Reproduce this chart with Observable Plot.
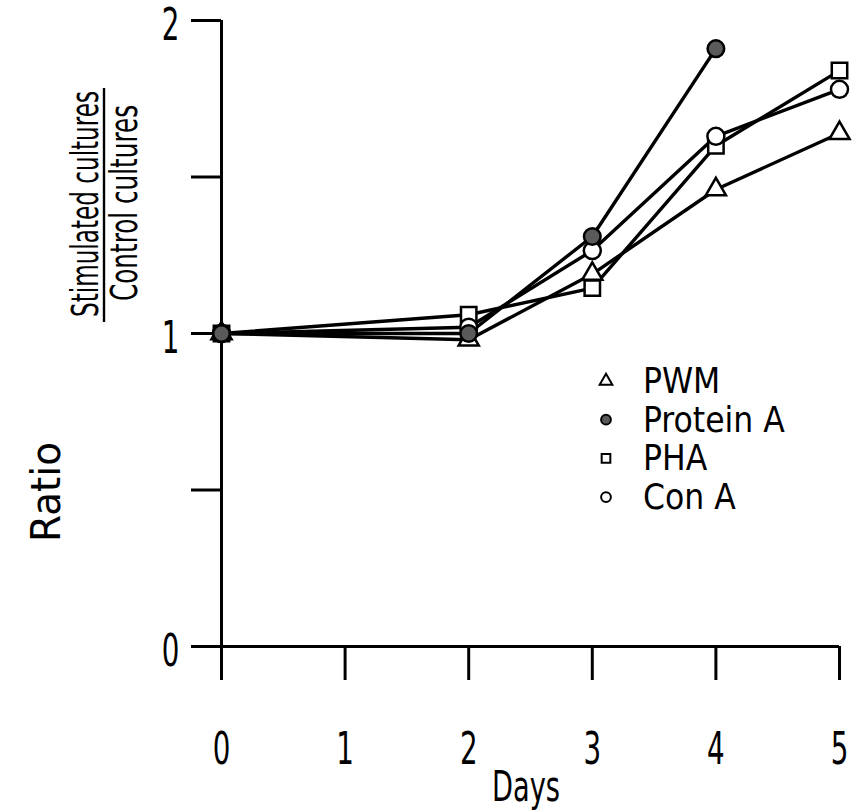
<!DOCTYPE html>
<html><head><meta charset="utf-8">
<script src="https://cdn.jsdelivr.net/npm/d3@7"></script>
<script src="https://cdn.jsdelivr.net/npm/@observablehq/plot@0.6"></script>
<style>body{margin:0;background:#fff} svg{display:block}</style>
</head><body><div id="chart"></div>
<script>
const days = [0, 2, 3, 4, 5];
const seriesNames = ["PWM", "Protein A", "PHA", "Con A"];
const pwm = [1.0, 0.98, 1.19, 1.46, 1.64];
const proteinA = [1.0, 1.0, 1.31, 1.91];
const pha = [1.0, 1.06, 1.145, 1.60, 1.84];
const conA = [1.0, 1.02, 1.265, 1.63, 1.78];
const xTicks = [0, 1, 2, 3, 4, 5];
const yTicks = [0, 0.5, 1, 1.5, 2];
const yLabelled = [0, 1, 2];

const FONT = '"DejaVu Sans Condensed", "Liberation Sans Narrow", "Liberation Sans", sans-serif';
const valuesBySeries = [pwm, proteinA, pha, conA];
const rows = [];
seriesNames.forEach((s, i) => valuesBySeries[i].forEach((v, j) => rows.push({series: s, day: days[j], ratio: v})));
const sym = {"PWM": "triangle", "Protein A": "circle", "PHA": "square", "Con A": "circle"};
const fillOf = {"PWM": "white", "Protein A": "#5a5a5a", "PHA": "white", "Con A": "white"};
const rOf = {"PWM": 7.5, "Protein A": 8.3, "PHA": 8.7, "Con A": 8.5};
const drawOrder = ["PWM", "PHA", "Con A", "Protein A"];

const W = 856, H = 812;
const plot = Plot.plot({
  width: W, height: H,
  marginLeft: 221, marginRight: 17, marginTop: 20, marginBottom: 166,
  style: {fontFamily: FONT, fontSize: "44px", color: "black", background: "white"},
  x: {domain: [0, 5]},
  y: {domain: [0, 2]},
  marks: [
    Plot.ruleX([xTicks[0]], {y1: yTicks[0], y2: yTicks[yTicks.length - 1], strokeWidth: 3}),
    Plot.ruleY([yTicks[0]], {x1: xTicks[0], x2: xTicks[xTicks.length - 1], strokeWidth: 3}),
    Plot.axisY({ticks: yTicks, tickSize: 30, strokeWidth: 3, tickFormat: () => "", label: null}),
    Plot.axisY({ticks: yLabelled, tickSize: 0, tickPadding: 42, fontSize: 44, dy: 5,
      tickFormat: d => String(d), label: null}),
    Plot.axisX({ticks: xTicks, tickSize: 34, tickPadding: 52, strokeWidth: 3, fontSize: 44,
      tickFormat: d => String(d), label: null}),
    Plot.line(rows, {x: "day", y: "ratio", z: "series", stroke: "black", strokeWidth: 3.4}),
    ...drawOrder.map(s => Plot.dot(rows.filter(d => d.series === s), {
      x: "day", y: "ratio", symbol: () => sym[s], r: rOf[s], fill: fillOf[s], stroke: "black", strokeWidth: 2.5
    }))
  ]
});
document.getElementById("chart").append(plot);

const svg = d3.select(plot);
// narrow the tick digits to match the condensed lettering of the original
svg.selectAll("g[aria-label='x-axis tick label'] text, g[aria-label='y-axis tick label'] text").each(function () {
  const L = this.getComputedTextLength();
  if (L > 0) { this.setAttribute("textLength", L * 0.7); this.setAttribute("lengthAdjust", "spacingAndGlyphs"); }
});

const x = plot.scale("x");
// x-axis title
svg.append("text").attr("x", (x.apply(2) + x.apply(3)) / 2 - 4).attr("y", 801)
  .attr("text-anchor", "middle").attr("font-family", FONT).attr("font-size", 42)
  .attr("textLength", 68).attr("lengthAdjust", "spacingAndGlyphs").text("Days");

// y-axis title: Ratio  Stimulated cultures / Control cultures
const ylab = svg.append("g").attr("font-family", FONT);
ylab.append("text").attr("transform", "translate(60,492) rotate(-90)").attr("text-anchor", "middle")
  .attr("font-size", 40).attr("textLength", 100).attr("lengthAdjust", "spacingAndGlyphs").text("Ratio");
ylab.append("text").attr("transform", "translate(98,204) rotate(-90)").attr("text-anchor", "middle")
  .attr("font-size", 37).attr("textLength", 226).attr("lengthAdjust", "spacingAndGlyphs").text("Stimulated cultures");
ylab.append("line").attr("x1", 104).attr("x2", 104).attr("y1", 88).attr("y2", 322).attr("stroke", "black").attr("stroke-width", 2.4);
ylab.append("text").attr("transform", "translate(137,203) rotate(-90)").attr("text-anchor", "middle")
  .attr("font-size", 37).attr("textLength", 196).attr("lengthAdjust", "spacingAndGlyphs").text("Control cultures");

// legend
const leg = svg.append("g").attr("font-family", FONT).attr("font-size", 35).attr("text-anchor", "start");
const symMap = {triangle: d3.symbolTriangle, circle: d3.symbolCircle, square: d3.symbolSquare};
seriesNames.forEach((s, i) => {
  const cy = 381 + i * 38.7;
  leg.append("path").attr("transform", `translate(606,${cy})`)
    .attr("d", d3.symbol(symMap[sym[s]], s === "PWM" ? 70 : 75)())
    .attr("fill", fillOf[s]).attr("stroke", "black").attr("stroke-width", 2);
  leg.append("text").attr("x", 643).attr("y", cy + 12).attr("text-anchor", "start").text(s);
});
</script>
</body></html>
